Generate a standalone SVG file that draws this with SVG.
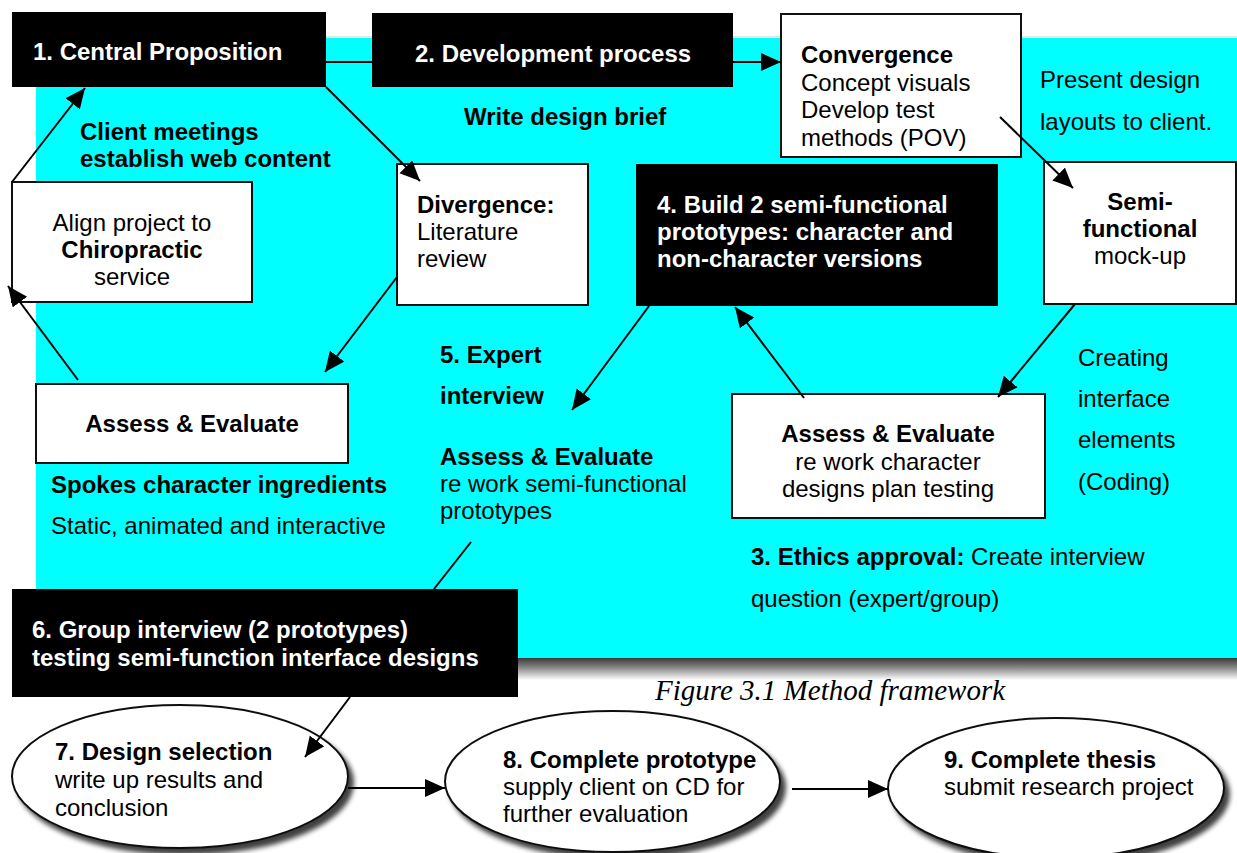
<svg xmlns="http://www.w3.org/2000/svg" width="1237" height="853" viewBox="0 0 1237 853">
  <style>
    text { font-family: "Liberation Sans", Arial, sans-serif; font-size: 24px; fill: #000; }
    .b { font-weight: bold; }
    .w { fill: #fff; font-weight: bold; }
    .mid { text-anchor: middle; }
    .cap { font-family: "Liberation Serif", "Times New Roman", serif; font-style: italic; font-size: 29px; }
    .dark { fill: #000; }
    .card { fill: #fff; stroke: #111; stroke-width: 2; }
    .oval { fill: #fff; stroke: #111; stroke-width: 2; filter: url(#soft); }
    .link { stroke: #000; stroke-width: 2; fill: none; }
    .arr { marker-end: url(#head); }
  </style>
  <defs>
    <marker id="head" markerUnits="userSpaceOnUse" markerWidth="22" markerHeight="20" refX="20" refY="9" orient="auto">
      <path d="M0,0 L20,9 L0,18 z" fill="#000"/>
    </marker>
    <linearGradient id="panelShade" x1="0" y1="0" x2="0" y2="1">
      <stop offset="0" stop-color="#3a3a3a"/>
      <stop offset="0.45" stop-color="#8a8a8a"/>
      <stop offset="1" stop-color="#ffffff"/>
    </linearGradient>
    <filter id="soft" x="-10%" y="-10%" width="125%" height="130%">
      <feGaussianBlur in="SourceAlpha" stdDeviation="2.5"/>
      <feOffset dx="5" dy="6" result="sh"/>
      <feComponentTransfer><feFuncA type="linear" slope="0.75"/></feComponentTransfer>
      <feMerge><feMergeNode/><feMergeNode in="SourceGraphic"/></feMerge>
    </filter>
  </defs>

  <rect width="1237" height="853" fill="#fff"/>

  <!-- cyan backdrop panel with its shadow -->
  <rect x="36" y="658" width="1201" height="22" fill="url(#panelShade)"/>
  <rect x="36" y="36" width="1201" height="2" fill="#e6e6e6"/>
  <rect x="36" y="38" width="1201" height="620" fill="#00ffff"/>

  <!-- free labels on the panel -->
  <g id="labels">
    <text class="b" x="80" y="140">Client meetings</text>
    <text class="b" x="80" y="167">establish web content</text>
    <text class="b" x="464" y="125">Write design brief</text>
    <text x="1040" y="88">Present design</text>
    <text x="1040" y="130">layouts to client.</text>
    <text class="b" x="440" y="363">5. Expert</text>
    <text class="b" x="440" y="404">interview</text>
    <text class="b" x="51" y="493">Spokes character ingredients</text>
    <text x="51" y="534">Static, animated and interactive</text>
    <text class="b" x="440" y="465">Assess &amp; Evaluate</text>
    <text x="440" y="492">re work semi-functional</text>
    <text x="440" y="519">prototypes</text>
    <text x="1078" y="366">Creating</text>
    <text x="1078" y="407">interface</text>
    <text x="1078" y="448">elements</text>
    <text x="1078" y="490">(Coding)</text>
    <text x="751" y="565"><tspan class="b">3. Ethics approval:</tspan> Create interview</text>
    <text x="751" y="607">question (expert/group)</text>
    <text class="cap" x="655" y="700">Figure 3.1 Method framework</text>
  </g>

  <g id="central-proposition">
    <rect class="dark" x="12" y="12" width="314" height="75"/>
    <text class="w" x="33" y="60">1. Central Proposition</text>
  </g>

  <g id="development-process">
    <rect class="dark" x="372" y="13" width="361" height="74"/>
    <text class="w" x="415" y="62">2. Development process</text>
  </g>

  <g id="convergence">
    <rect class="card" x="781" y="14" width="240" height="143"/>
    <text class="b" x="801" y="63">Convergence</text>
    <text x="801" y="91">Concept visuals</text>
    <text x="801" y="118">Develop test</text>
    <text x="801" y="146">methods (POV)</text>
  </g>

  <g id="semi-functional">
    <rect class="card" x="1044" y="162" width="192" height="142"/>
    <text class="b mid" x="1140" y="210">Semi-</text>
    <text class="b mid" x="1140" y="237">functional</text>
    <text class="mid" x="1140" y="264">mock-up</text>
  </g>

  <g id="align-project">
    <rect class="card" x="12" y="182" width="240" height="120"/>
    <text class="mid" x="132" y="231">Align project to</text>
    <text class="b mid" x="132" y="258">Chiropractic</text>
    <text class="mid" x="132" y="285">service</text>
  </g>

  <g id="divergence">
    <rect class="card" x="397" y="164" width="191" height="141"/>
    <text class="b" x="417" y="213">Divergence:</text>
    <text x="417" y="240">Literature</text>
    <text x="417" y="267">review</text>
  </g>

  <g id="build-prototypes">
    <rect class="dark" x="636" y="164" width="362" height="142"/>
    <text class="w" x="657" y="213">4. Build 2 semi-functional</text>
    <text class="w" x="657" y="240">prototypes: character and</text>
    <text class="w" x="657" y="267">non-character versions</text>
  </g>

  <g id="assess-left">
    <rect class="card" x="36" y="384" width="312" height="79"/>
    <text class="b mid" x="192" y="432">Assess &amp; Evaluate</text>
  </g>

  <g id="assess-right">
    <rect class="card" x="732" y="394" width="313" height="124"/>
    <text class="b mid" x="888" y="442">Assess &amp; Evaluate</text>
    <text class="mid" x="888" y="470">re work character</text>
    <text class="mid" x="888" y="497">designs plan testing</text>
  </g>

  <g id="group-interview">
    <rect class="dark" x="12" y="589" width="506" height="108"/>
    <text class="w" x="32" y="638">6. Group interview (2 prototypes)</text>
    <text class="w" x="32" y="666">testing semi-function interface designs</text>
  </g>

  <g id="design-selection">
    <ellipse class="oval" cx="180" cy="776.5" rx="168" ry="71.5"/>
    <text class="b" x="55" y="760">7. Design selection</text>
    <text x="55" y="788">write up results and</text>
    <text x="55" y="816">conclusion</text>
  </g>

  <g id="complete-prototype">
    <ellipse class="oval" cx="612.5" cy="781.5" rx="167.5" ry="70.5"/>
    <text class="b" x="503" y="768">8. Complete prototype</text>
    <text x="503" y="795">supply client on CD for</text>
    <text x="503" y="822">further evaluation</text>
  </g>

  <g id="complete-thesis">
    <ellipse class="oval" cx="1056" cy="788" rx="168" ry="70"/>
    <text class="b" x="944" y="768">9. Complete thesis</text>
    <text x="944" y="795">submit research project</text>
  </g>

  <!-- connectors drawn last so arrow tips sit on top of the boxes -->
  <g id="connectors">
    <line class="link" x1="326" y1="62" x2="372" y2="62"/>
    <line class="link arr" x1="733" y1="62" x2="781" y2="62"/>
    <line class="link arr" x1="326" y1="87" x2="420" y2="181"/>
    <line class="link arr" x1="1000" y1="117" x2="1073" y2="188"/>
    <line class="link arr" x1="1075" y1="304" x2="998" y2="397"/>
    <line class="link arr" x1="804" y1="398" x2="735" y2="307"/>
    <line class="link arr" x1="649" y1="306" x2="572" y2="410"/>
    <line class="link arr" x1="397" y1="277" x2="325" y2="372"/>
    <line class="link arr" x1="78" y1="380" x2="8" y2="286"/>
    <line class="link arr" x1="12" y1="182" x2="85" y2="88"/>
    <line class="link" x1="471" y1="542" x2="434" y2="589"/>
    <line class="link arr" x1="350" y1="697" x2="305" y2="757"/>
    <line class="link arr" x1="348" y1="788" x2="445" y2="788"/>
    <line class="link arr" x1="792" y1="789" x2="888" y2="789"/>
  </g>
</svg>
